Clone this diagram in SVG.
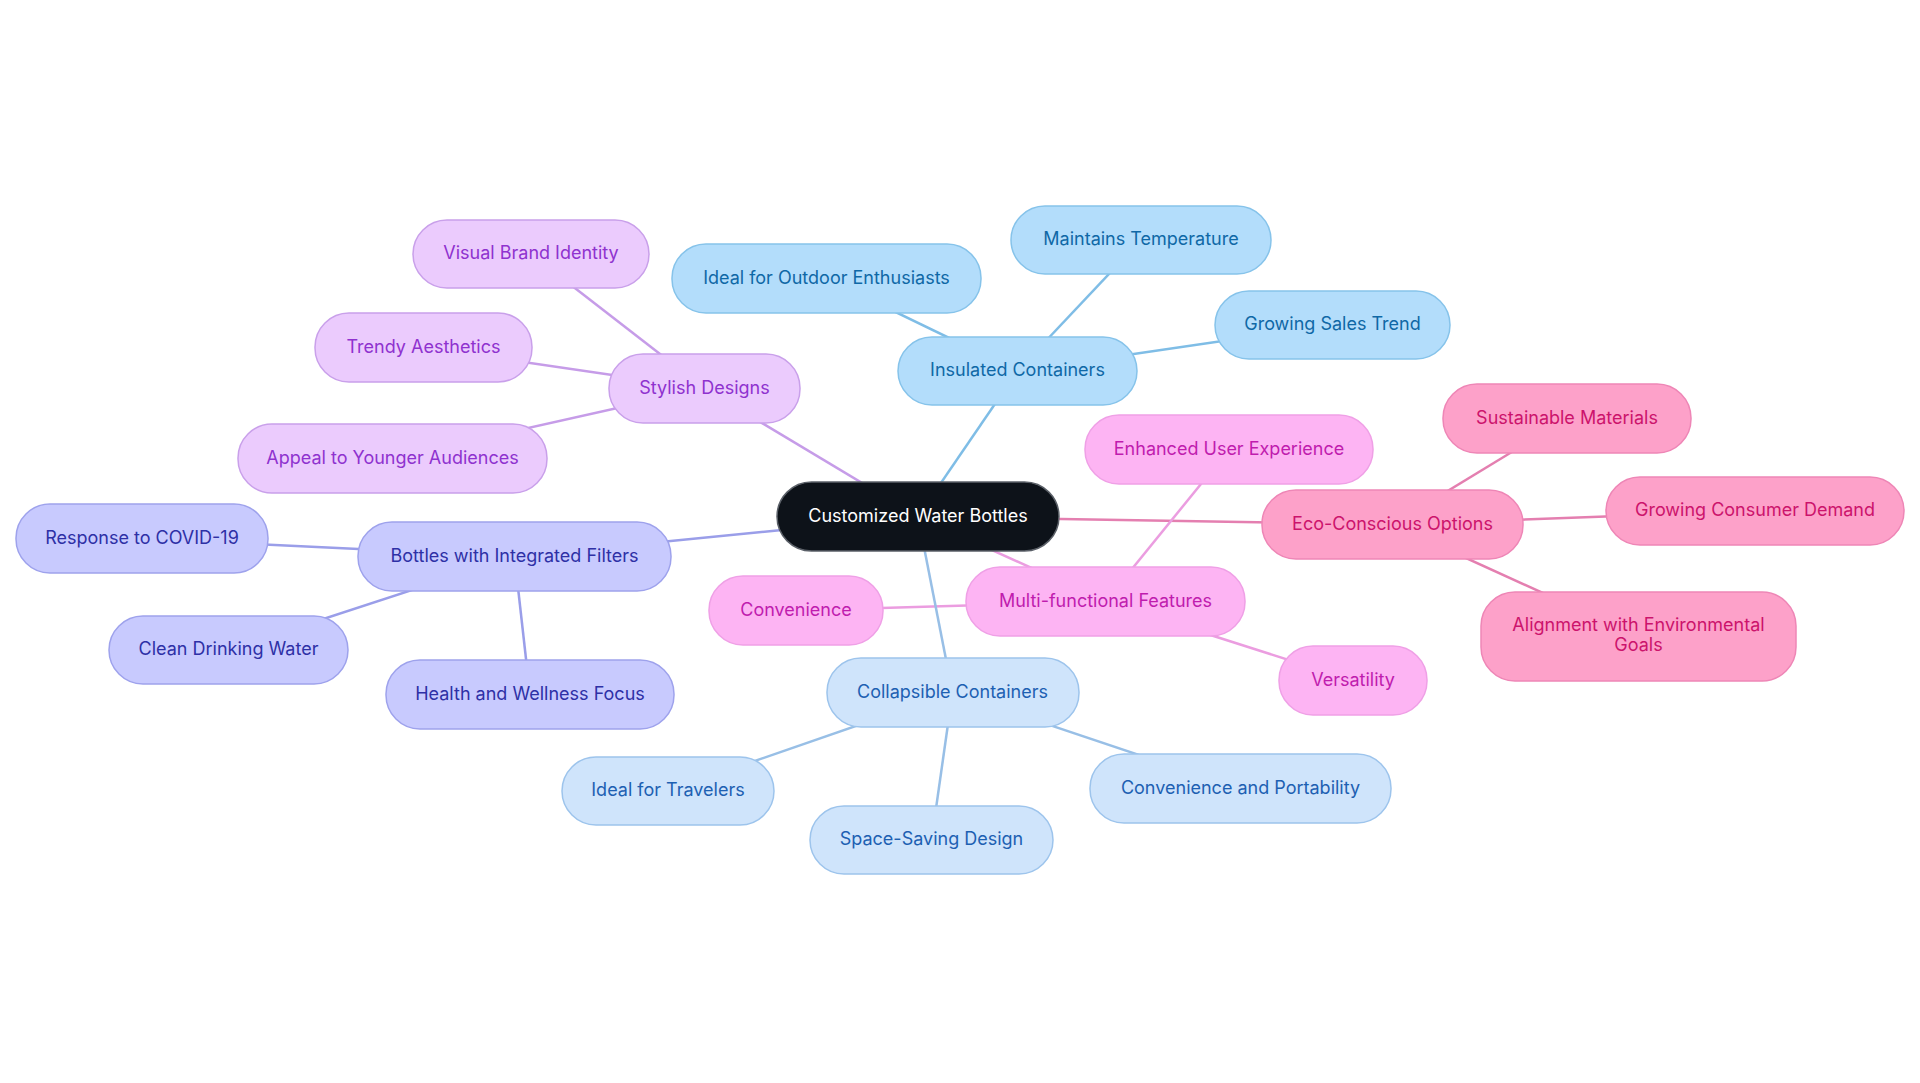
<svg xmlns="http://www.w3.org/2000/svg" width="1920" height="1083" viewBox="0 0 1920 1083">
<style>
text{font-family:Inter,"Noto Sans","Liberation Sans",sans-serif;font-size:18px;text-anchor:middle;dominant-baseline:central;transform:translateY(-1.5px)}
.c rect{fill:#0d1219;stroke:#5b6068;stroke-width:1.5}
.c text{fill:#ffffff}
.pu rect{fill:#ebcbfd;stroke:#c9a0ea;stroke-width:1.5}
.pu text{fill:#8f32cf}
.bl rect{fill:#b3ddfb;stroke:#86c3ea;stroke-width:1.5}
.bl text{fill:#0f68a6}
.ec rect{fill:#fda1c9;stroke:#ee86b6;stroke-width:1.5}
.ec text{fill:#cc136c}
.mf rect{fill:#fdb4f3;stroke:#efa0e6;stroke-width:1.5}
.mf text{fill:#c01cae}
.in rect{fill:#c8cafe;stroke:#9ea2ec;stroke-width:1.5}
.in text{fill:#2e30a6}
.lb rect{fill:#cfe4fb;stroke:#9dc4ec;stroke-width:1.5}
.lb text{fill:#1d60b2}
#connectors line{stroke-width:2.5;fill:none}
.lpu{stroke:#c69ce8}.lbl{stroke:#7fbde6}.lec{stroke:#e47fb0}.lmf{stroke:#eb9de0}.lin{stroke:#9a9ee9}.llb{stroke:#98bfe6}
</style>
<rect width="1920" height="1083" fill="#ffffff"/>
<g id="connectors">
<line class="lpu" x1="918" y1="516.5" x2="704.5" y2="388.5"/>
<line class="lpu" x1="704.5" y1="388.5" x2="531" y2="254"/>
<line class="lpu" x1="704.5" y1="388.5" x2="423.5" y2="347.5"/>
<line class="lpu" x1="704.5" y1="388.5" x2="392.5" y2="458.5"/>
<line class="lbl" x1="918" y1="516.5" x2="1017.5" y2="371"/>
<line class="lbl" x1="1017.5" y1="371" x2="826.5" y2="278.5"/>
<line class="lbl" x1="1017.5" y1="371" x2="1141" y2="240"/>
<line class="lbl" x1="1017.5" y1="371" x2="1332.5" y2="325"/>
<line class="lec" x1="918" y1="516.5" x2="1392.5" y2="524.5"/>
<line class="lec" x1="1392.5" y1="524.5" x2="1567" y2="418.5"/>
<line class="lec" x1="1392.5" y1="524.5" x2="1755" y2="511"/>
<line class="lec" x1="1392.5" y1="524.5" x2="1638.5" y2="636.5"/>
<line class="lmf" x1="918" y1="516.5" x2="1105.5" y2="601.5"/>
<line class="lmf" x1="1105.5" y1="601.5" x2="1229" y2="449.5"/>
<line class="lmf" x1="1105.5" y1="601.5" x2="796" y2="610.5"/>
<line class="lmf" x1="1105.5" y1="601.5" x2="1353" y2="680.5"/>
<line class="lin" x1="918" y1="516.5" x2="514.5" y2="556.5"/>
<line class="lin" x1="514.5" y1="556.5" x2="142" y2="538.5"/>
<line class="lin" x1="514.5" y1="556.5" x2="228.5" y2="650"/>
<line class="lin" x1="514.5" y1="556.5" x2="530" y2="694.5"/>
<line class="llb" x1="918" y1="516.5" x2="952.5" y2="692.5"/>
<line class="llb" x1="952.5" y1="692.5" x2="668" y2="791"/>
<line class="llb" x1="952.5" y1="692.5" x2="931.5" y2="840"/>
<line class="llb" x1="952.5" y1="692.5" x2="1240.5" y2="789"/>
</g>
<g id="center" class="c"><rect x="777" y="482" width="282" height="69" rx="34.5"/><text x="918" y="516.5">Customized Water Bottles</text></g>
<g id="stylish" class="pu"><rect x="609" y="354" width="191" height="69" rx="34"/><text x="704.5" y="388.5">Stylish Designs</text></g>
<g id="visual" class="pu"><rect x="413" y="220" width="236" height="68" rx="34"/><text x="531" y="254">Visual Brand Identity</text></g>
<g id="trendy" class="pu"><rect x="315" y="313" width="217" height="69" rx="34"/><text x="423.5" y="347.5">Trendy Aesthetics</text></g>
<g id="appeal" class="pu"><rect x="238" y="424" width="309" height="69" rx="34"/><text x="392.5" y="458.5">Appeal to Younger Audiences</text></g>
<g id="insulated" class="bl"><rect x="898" y="337" width="239" height="68" rx="34"/><text x="1017.5" y="371">Insulated Containers</text></g>
<g id="outdoor" class="bl"><rect x="672" y="244" width="309" height="69" rx="34"/><text x="826.5" y="278.5">Ideal for Outdoor Enthusiasts</text></g>
<g id="maintains" class="bl"><rect x="1011" y="206" width="260" height="68" rx="34"/><text x="1141" y="240">Maintains Temperature</text></g>
<g id="sales" class="bl"><rect x="1215" y="291" width="235" height="68" rx="34"/><text x="1332.5" y="325">Growing Sales Trend</text></g>
<g id="eco" class="ec"><rect x="1262" y="490" width="261" height="69" rx="34"/><text x="1392.5" y="524.5">Eco-Conscious Options</text></g>
<g id="sustainable" class="ec"><rect x="1443" y="384" width="248" height="69" rx="34"/><text x="1567" y="418.5">Sustainable Materials</text></g>
<g id="demand" class="ec"><rect x="1606" y="477" width="298" height="68" rx="34"/><text x="1755" y="511">Growing Consumer Demand</text></g>
<g id="alignment" class="ec"><rect x="1481" y="592" width="315" height="89" rx="34"/><text x="1638.5" y="626">Alignment with Environmental</text><text x="1638.5" y="646">Goals</text></g>
<g id="multi" class="mf"><rect x="966" y="567" width="279" height="69" rx="34"/><text x="1105.5" y="601.5">Multi-functional Features</text></g>
<g id="enhanced" class="mf"><rect x="1085" y="415" width="288" height="69" rx="34"/><text x="1229" y="449.5">Enhanced User Experience</text></g>
<g id="convenience" class="mf"><rect x="709" y="576" width="174" height="69" rx="34"/><text x="796" y="610.5">Convenience</text></g>
<g id="versatility" class="mf"><rect x="1279" y="646" width="148" height="69" rx="34"/><text x="1353" y="680.5">Versatility</text></g>
<g id="filters" class="in"><rect x="358" y="522" width="313" height="69" rx="34"/><text x="514.5" y="556.5">Bottles with Integrated Filters</text></g>
<g id="covid" class="in"><rect x="16" y="504" width="252" height="69" rx="34"/><text x="142" y="538.5">Response to COVID-19</text></g>
<g id="clean" class="in"><rect x="109" y="616" width="239" height="68" rx="34"/><text x="228.5" y="650">Clean Drinking Water</text></g>
<g id="health" class="in"><rect x="386" y="660" width="288" height="69" rx="34"/><text x="530" y="694.5">Health and Wellness Focus</text></g>
<g id="collapsible" class="lb"><rect x="827" y="658" width="252" height="69" rx="34"/><text x="952.5" y="692.5">Collapsible Containers</text></g>
<g id="travelers" class="lb"><rect x="562" y="757" width="212" height="68" rx="34"/><text x="668" y="791">Ideal for Travelers</text></g>
<g id="spacesaving" class="lb"><rect x="810" y="806" width="243" height="68" rx="34"/><text x="931.5" y="840">Space-Saving Design</text></g>
<g id="portability" class="lb"><rect x="1090" y="754" width="301" height="69" rx="34"/><text x="1240.5" y="789">Convenience and Portability</text></g>
</svg>
